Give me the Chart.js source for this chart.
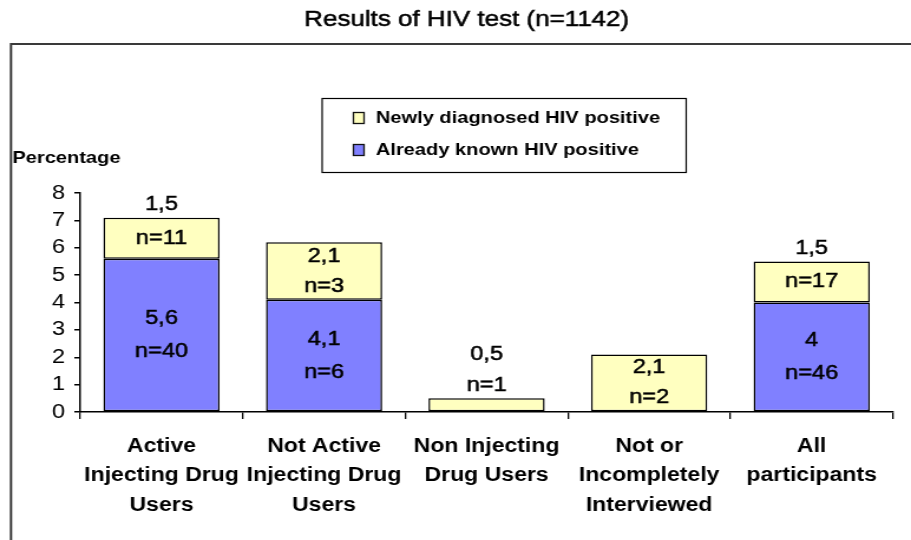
<!DOCTYPE html>
<html>
<head>
<meta charset="utf-8">
<script src="https://cdn.jsdelivr.net/npm/chart.js@4.4.1/dist/chart.umd.min.js"></script>
<style>
  html, body { margin: 0; padding: 0; background: #fff; overflow: hidden; }
  /* the original picture is stretched sideways, so the canvas is drawn narrower and widened */
  #wrap { width: 772px; height: 540px; transform: scaleX(1.18005); transform-origin: 0 0; }
</style>
</head>
<body>
<div id="wrap"><canvas id="hivChart" width="772" height="540"></canvas></div>
<script>
const categories = [
    ['Active', 'Injecting Drug', 'Users'],
    ['Not Active', 'Injecting Drug', 'Users'],
    ['Non Injecting', 'Drug Users'],
    ['Not or', 'Incompletely', 'Interviewed'],
    ['All', 'participants']
];
const alreadyKnown = [5.6, 4.1, 0, 0, 4];
const newlyDiagnosed = [1.5, 2.1, 0.5, 2.1, 1.5];
const alreadyKnownN = ['n=40', 'n=6', '', '', 'n=46'];
const newlyDiagnosedN = ['n=11', 'n=3', 'n=1', 'n=2', 'n=17'];
const yTickValues = [0, 1, 2, 3, 4, 5, 6, 7, 8];

const SANS = '"Liberation Sans", Arial, Helvetica, sans-serif';
const BLUE = '#8080FF';
const YELLOW = '#FFFFC0';

const fmt = (v) => String(v).replace('.', ',');

// slightly heavier text, the scan looks a bit darker than plain Arial
const heavyText = (ctx, text, x, y) => {
    ctx.fillText(text, x, y);
    ctx.strokeText(text, x, y);
};

const framePlugin = {
    id: 'frame',
    beforeDraw(chart) {
        const ctx = chart.ctx;
        ctx.save();
        ctx.fillStyle = '#fff';
        ctx.fillRect(0, 0, chart.width, chart.height);
        ctx.fillStyle = '#000';
        ctx.strokeStyle = '#000';
        ctx.lineWidth = 0.5;
        ctx.font = '22px ' + SANS;
        ctx.textAlign = 'center';
        ctx.textBaseline = 'middle';
        heavyText(ctx, 'Results of HIV test (n=1142)', 395.5, 20);

        ctx.strokeStyle = '#3a3a3a';
        ctx.lineWidth = 2;
        ctx.beginPath();
        ctx.moveTo(9.3, chart.height + 2);
        ctx.lineTo(9.3, 44);
        ctx.lineTo(chart.width + 2, 44);
        ctx.stroke();

        ctx.font = 'bold 17px ' + SANS;
        ctx.textAlign = 'left';
        ctx.fillText('Percentage', 10.5, 158);
        ctx.restore();
    }
};

const legendBoxPlugin = {
    id: 'legendBox',
    afterDraw(chart) {
        const ctx = chart.ctx;
        ctx.save();
        ctx.strokeStyle = '#000';
        ctx.lineWidth = 1.2;
        ctx.strokeRect(273, 98.5, 308.5, 74);
        const items = chart.data.datasets.slice().reverse();
        items.forEach((ds, i) => {
            const y = 118 + i * 32;
            ctx.fillStyle = ds.backgroundColor;
            ctx.fillRect(299, y - 6, 10, 12);
            ctx.strokeStyle = '#111';
            ctx.lineWidth = 1.3;
            ctx.strokeRect(299.5, y - 5.5, 9, 11);
            ctx.fillStyle = '#000';
            ctx.font = 'bold 17px ' + SANS;
            ctx.textAlign = 'left';
            ctx.textBaseline = 'middle';
            ctx.fillText(ds.label, 318.5, y);
        });
        ctx.restore();
    }
};

const barLabelPlugin = {
    id: 'barLabels',
    afterDatasetsDraw(chart) {
        const ctx = chart.ctx;
        const blueMeta = chart.getDatasetMeta(0);
        const yelMeta = chart.getDatasetMeta(1);
        ctx.save();
        ctx.fillStyle = '#000';
        ctx.strokeStyle = '#000';
        ctx.lineWidth = 0.5;
        ctx.font = '20px ' + SANS;
        ctx.textAlign = 'center';
        ctx.textBaseline = 'middle';
        categories.forEach((c, i) => {
            const b = blueMeta.data[i];
            if (alreadyKnown[i] > 0) {
                const mid = (b.y + b.base) / 2;
                heavyText(ctx, fmt(alreadyKnown[i]), b.x, mid - 16);
                heavyText(ctx, alreadyKnownN[i], b.x, mid + 17);
            }
            const y = yelMeta.data[i];
            const h = y.base - y.y;
            const mid = (y.y + y.base) / 2;
            if (h > 50) {
                heavyText(ctx, fmt(newlyDiagnosed[i]), y.x, mid - 15);
                heavyText(ctx, newlyDiagnosedN[i], y.x, mid + 15);
            } else if (h > 30) {
                heavyText(ctx, newlyDiagnosedN[i], y.x, mid);
                heavyText(ctx, fmt(newlyDiagnosed[i]), y.x, y.y - 13);
            } else {
                heavyText(ctx, newlyDiagnosedN[i], y.x, y.y - 13);
                heavyText(ctx, fmt(newlyDiagnosed[i]), y.x, y.y - 44);
            }
        });
        ctx.restore();
    }
};

new Chart(document.getElementById('hivChart').getContext('2d'), {
    type: 'bar',
    data: {
        labels: categories,
        datasets: [
            {
                label: 'Already known HIV positive',
                data: alreadyKnown,
                backgroundColor: BLUE,
                borderColor: '#000',
                borderWidth: 1.5,
                borderSkipped: false,
                barPercentage: 0.715,
                categoryPercentage: 1
            },
            {
                label: 'Newly diagnosed HIV positive',
                data: newlyDiagnosed,
                backgroundColor: YELLOW,
                borderColor: '#000',
                borderWidth: 1.5,
                borderSkipped: false,
                barPercentage: 0.715,
                categoryPercentage: 1
            }
        ]
    },
    options: {
        responsive: false,
        animation: false,
        layout: { padding: { top: 193, left: 34, right: 15.3, bottom: 18 } },
        plugins: { legend: { display: false }, title: { display: false }, tooltip: { enabled: false } },
        scales: {
            x: {
                stacked: true,
                afterFit: (s) => { s.height = 110; },
                grid: { drawOnChartArea: false, drawTicks: true, tickLength: 7, color: '#000', lineWidth: 1.3, offset: true },
                border: { display: true, color: '#000', width: 1.5 },
                ticks: {
                    color: '#000',
                    maxRotation: 0,
                    autoSkip: false,
                    padding: 13,
                    font: { family: SANS, size: 19.5, weight: 'bold', lineHeight: 1.5 }
                }
            },
            y: {
                stacked: true,
                min: 0,
                max: 8,
                afterFit: (s) => { s.width = 34; },
                afterBuildTicks: (s) => { s.ticks = yTickValues.map((v) => ({ value: v })); },
                grid: { drawOnChartArea: false, drawTicks: true, tickLength: 5, color: '#000', lineWidth: 1.5 },
                border: { display: true, color: '#000', width: 1.5 },
                ticks: {
                    color: '#000',
                    padding: 8,
                    font: { family: SANS, size: 20 }
                }
            }
        }
    },
    plugins: [framePlugin, legendBoxPlugin, barLabelPlugin]
});
</script>
</body>
</html>
